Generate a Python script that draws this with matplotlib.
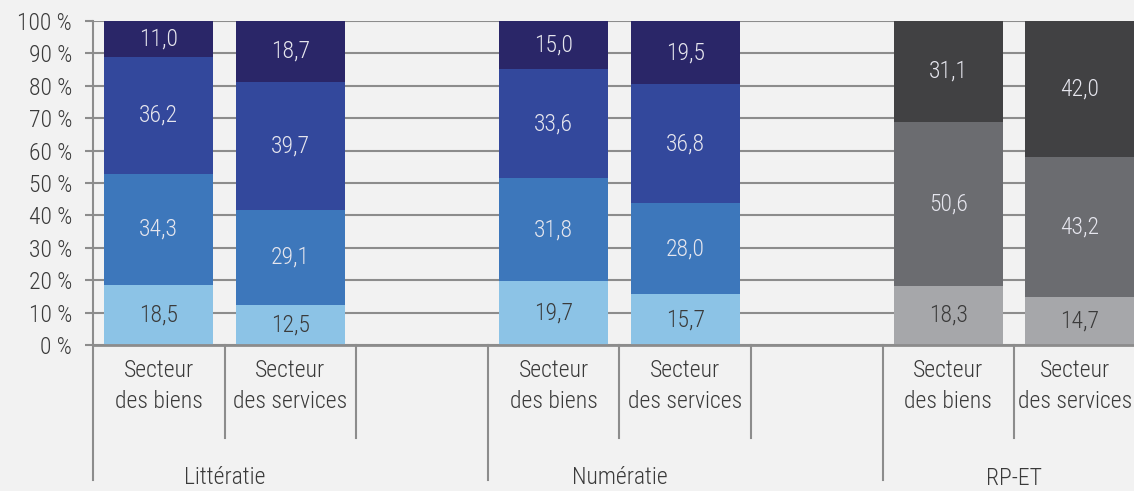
import numpy as np
import matplotlib.pyplot as plt
from matplotlib import font_manager

# pick a narrow / light font if there is one
fonts = font_manager.fontManager.ttflist
names = {f.name for f in fonts}
FONT = 'Roboto'
for cand in ['Roboto Condensed', 'Liberation Sans Narrow', 'Open Sans Condensed']:
    if cand in names:
        FONT = cand
        break
light = any(f.name == FONT and f.weight in (300, 'light') for f in fonts)
WEIGHT = 'light' if light else 'normal'
FS = 16 if FONT == 'Roboto' else 17
plt.rcParams['font.family'] = [FONT, 'DejaVu Sans']
plt.rcParams['font.weight'] = WEIGHT

# data
groups = ['Littératie', 'Numératie', 'RP-ET']
sectors = ['Secteur\ndes biens', 'Secteur\ndes services']
bar_slots = [0, 1, 3, 4, 6, 7]
level1 = [18.5, 12.5, 19.7, 15.7, 18.3, 14.7]
level2 = [34.3, 29.1, 31.8, 28.0, 50.6, 43.2]
level3 = [36.2, 39.7, 33.6, 36.8, 31.1, 42.0]
level4 = [11.0, 18.7, 15.0, 19.5]          # only for littératie / numératie

blues = ['#8cc3e6', '#3d77bb', '#33489c', '#2a2668']
greys = ['#a6a7aa', '#6b6c70', '#414143']
bg = '#f2f2f2'
grid_col = '#8c8c8c'
txt = '#3a3a3a'

W, H = 1134, 491
fig = plt.figure(figsize=(W / 100, H / 100), dpi=100, facecolor=bg)
ax = fig.add_axes([93 / W, (H - 345) / H, (W - 93) / W, 324 / H])
ax.set_facecolor(bg)

ax.set_ylim(0, 100)
ax.set_xlim(-0.5, 7.41)
ax.set_yticks(np.arange(0, 101, 10))
ax.set_yticklabels([f'{v} %' for v in range(0, 101, 10)])
ax.yaxis.grid(True, color=grid_col, lw=1.5)
ax.set_axisbelow(True)
ax.tick_params(axis='y', length=6, width=1.5, color=grid_col, pad=9,
               labelsize=FS, labelcolor=txt)
ax.set_xticks([])
for s in ['top', 'right', 'left']:
    ax.spines[s].set_visible(False)
ax.spines['bottom'].set_color(grid_col)
ax.spines['bottom'].set_linewidth(2)

bw = 0.83
levels = [level1, level2, level3]
for i, x in enumerate(bar_slots):
    vals = [lv[i] for lv in levels]
    if i < len(level4):
        vals.append(level4[i])
        cols = blues
    else:
        cols = greys
    bottom = 0
    for k, v in enumerate(vals):
        ax.bar(x, v, bw, bottom=bottom, color=cols[k], lw=0, zorder=2)
        tc = txt if k == 0 else '#e6e6ee'
        ax.text(x, bottom + v / 2, f'{v:.1f}'.replace('.', ','), ha='center',
                va='center', fontsize=FS, color=tc, zorder=3)
        bottom += v

# category separators and labels below the axis
trans = ax.get_xaxis_transform()
short_y = -(438 - 345) / 324
long_y = -(480 - 345) / 324
ax.plot([-0.5, -0.5], [1, long_y], color=grid_col, lw=1.5, transform=trans,
        clip_on=False, zorder=1)
for b in np.arange(0.5, 9, 1):
    y_end = long_y if b in (2.5, 5.5, 8.5) else short_y
    ax.plot([b, b], [0, y_end], color=grid_col, lw=1.5, transform=trans,
            clip_on=False)

for i, x in enumerate(bar_slots):
    # last label sits at the right edge, nudge it so it stays inside
    lx = x - 0.04 if i == len(bar_slots) - 1 else x
    ax.text(lx, -(386 - 345) / 324, sectors[i % 2],
            transform=trans, ha='center', va='center', fontsize=FS,
            color=txt, linespacing=1.45)

for g, gx in zip(groups, [0.5, 3.5, 6.5]):
    ax.text(gx, -(478 - 345) / 324, g, transform=trans, ha='center',
            va='center', fontsize=FS, color=txt)

fig.savefig('out.png', dpi=100, facecolor=bg)
